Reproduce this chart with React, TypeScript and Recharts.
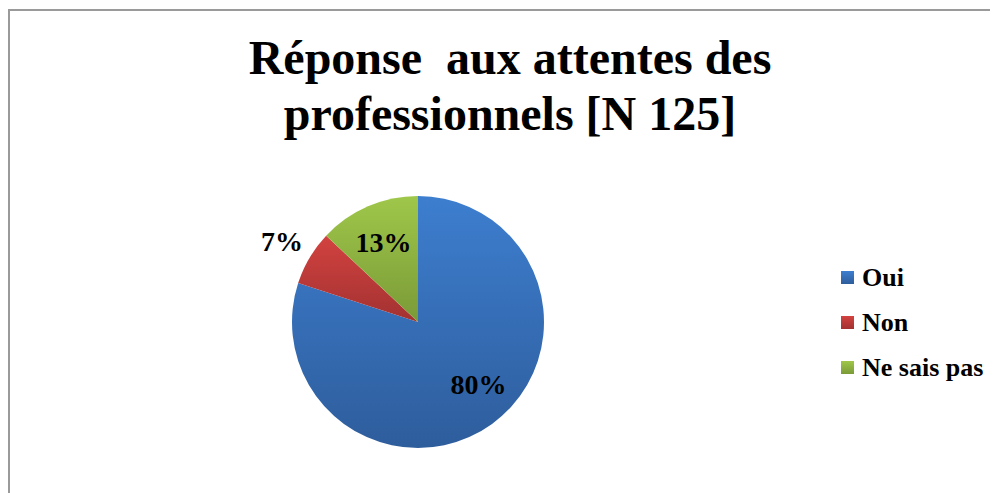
import { PieChart, Pie, Cell, Legend } from 'recharts';

const categories = ['Oui', 'Non', 'Ne sais pas'];
const values = [80, 7, 13];
const colorsTop = ['#3d7ecf', '#d24240', '#9fc74a'];
const colorsBottom = ['#2e5d9c', '#a23231', '#7a9a37'];

const data = categories.map((name, i) => ({ name, value: values[i] }));

// small nudges so labels sit where the original "best fit" put them
const labelAngleShift = [8, 0, 0];

const RADIAN = Math.PI / 180;
const FONT = "'Liberation Serif', 'Times New Roman', serif";

function renderLabel(props: any) {
  const { cx, cy, midAngle, outerRadius, percent, index } = props;
  const r = percent < 0.1 ? outerRadius + 32 : outerRadius * 0.69;
  const a = (midAngle + labelAngleShift[index]) * RADIAN;
  const x = cx + r * Math.cos(-a);
  const y = cy + r * Math.sin(-a);
  return (
    <text
      x={x}
      y={y}
      textAnchor="middle"
      dominantBaseline="central"
      fontFamily={FONT}
      fontWeight="bold"
      fontSize={28}
      fill="#000"
    >
      {`${Math.round(percent * 100)}%`}
    </text>
  );
}

function renderLegend() {
  return (
    <div style={{ fontFamily: FONT, fontWeight: 'bold', fontSize: 26 }}>
      {categories.map((name, i) => (
        <div key={`leg-${i}`} style={{ display: 'flex', alignItems: 'center', height: 45 }}>
          <span
            style={{
              display: 'inline-block',
              width: 13,
              height: 13,
              marginRight: 8,
              background: `linear-gradient(${colorsTop[i]}, ${colorsBottom[i]})`,
            }}
          />
          <span>{name}</span>
        </div>
      ))}
    </div>
  );
}

export default function App() {
  return (
    <div
      style={{
        position: 'relative',
        marginTop: 1,
        width: 1000,
        height: 482,
        borderTop: '2px solid #9a9a9a',
        borderLeft: '2px solid #9a9a9a',
      }}
    >
      <style>{'body{overflow:hidden}'}</style>
      <div
        style={{
          position: 'absolute',
          left: 0,
          top: 19,
          width: 1000,
          textAlign: 'center',
          fontFamily: FONT,
          fontWeight: 'bold',
          fontSize: 48,
          lineHeight: '56px',
          whiteSpace: 'pre',
        }}
      >
        {'Réponse  aux attentes des\nprofessionnels [N 125]'}
      </div>
      <PieChart width={988} height={482}>
        <defs>
          {categories.map((c, i) => (
            <linearGradient key={c} id={`grad-${i}`} x1="0" y1="0" x2="0" y2="1">
              <stop offset="0%" stopColor={colorsTop[i]} />
              <stop offset="100%" stopColor={colorsBottom[i]} />
            </linearGradient>
          ))}
        </defs>
        <Pie
          data={data}
          dataKey="value"
          nameKey="name"
          cx={403}
          cy={306}
          outerRadius={126}
          startAngle={90}
          endAngle={-270}
          stroke="none"
          label={renderLabel}
          labelLine={false}
          isAnimationActive={false}
        >
          {data.map((entry, i) => (
            <Cell key={`cell-${i}`} fill={`url(#grad-${i})`} />
          ))}
        </Pie>
        <Legend
          layout="vertical"
          align="right"
          verticalAlign="top"
          content={renderLegend}
          wrapperStyle={{ left: 831, top: 244, width: 160 }}
        />
      </PieChart>
    </div>
  );
}
